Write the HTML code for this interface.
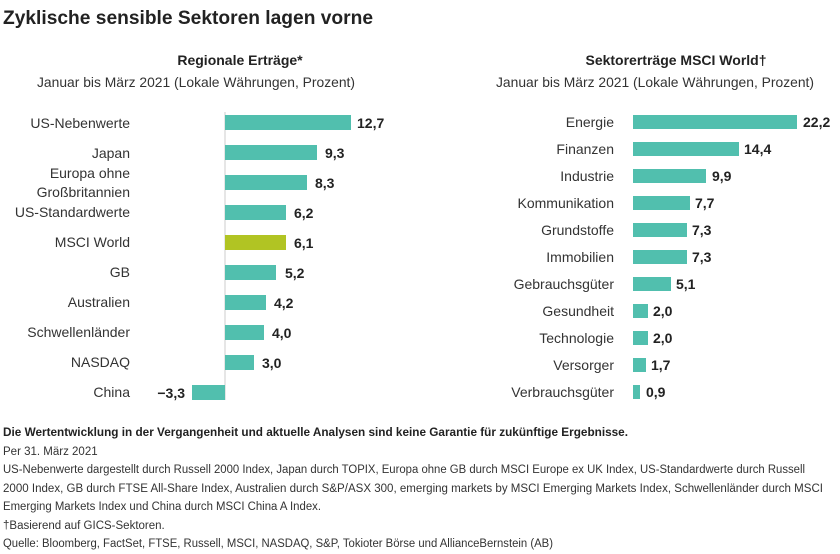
<!DOCTYPE html>
<html><head><meta charset="utf-8"><style>
body{margin:0;background:#fff;}
svg{display:block;font-family:"Liberation Sans",sans-serif;}
</style></head><body>
<svg width="840" height="554" viewBox="0 0 840 554">
<text x="3" y="24" font-size="19.5" font-weight="bold" fill="#222" textLength="370" lengthAdjust="spacingAndGlyphs">Zyklische sensible Sektoren lagen vorne</text>
<text x="240" y="65" font-size="14" font-weight="bold" fill="#222" text-anchor="middle">Regionale Erträge*</text>
<text x="196" y="87" font-size="14" fill="#333" text-anchor="middle" textLength="318" lengthAdjust="spacingAndGlyphs">Januar bis März 2021 (Lokale Währungen, Prozent)</text>
<text x="676" y="65" font-size="14" font-weight="bold" fill="#222" text-anchor="middle">Sektorerträge MSCI World†</text>
<text x="655" y="87" font-size="14" fill="#333" text-anchor="middle" textLength="318" lengthAdjust="spacingAndGlyphs">Januar bis März 2021 (Lokale Währungen, Prozent)</text>

<line x1="225" y1="112" x2="225" y2="400" stroke="#ccc" stroke-width="1"/>
<g font-size="14" fill="#333" text-anchor="end">
<text x="130" y="128">US-Nebenwerte</text>
<text x="130" y="158">Japan</text>
<text x="130" y="178">Europa ohne</text>
<text x="130" y="197">Großbritannien</text>
<text x="130" y="217">US-Standardwerte</text>
<text x="130" y="247">MSCI World</text>
<text x="130" y="277">GB</text>
<text x="130" y="307">Australien</text>
<text x="130" y="337">Schwellenländer</text>
<text x="130" y="367">NASDAQ</text>
<text x="130" y="397">China</text>
</g>
<g fill="#51bfae">
<rect x="225" y="115" width="126" height="15"/>
<rect x="225" y="145" width="92" height="15"/>
<rect x="225" y="175" width="82" height="15"/>
<rect x="225" y="205" width="61" height="15"/>
<rect x="225" y="235" width="61" height="15" fill="#b1c423"/>
<rect x="225" y="265" width="51" height="15"/>
<rect x="225" y="295" width="41" height="15"/>
<rect x="225" y="325" width="39" height="15"/>
<rect x="225" y="355" width="29" height="15"/>
<rect x="192" y="385" width="33" height="15"/>
</g>
<g font-size="14" font-weight="bold" fill="#222">
<text x="357" y="128">12,7</text>
<text x="325" y="158">9,3</text>
<text x="315" y="188">8,3</text>
<text x="294" y="218">6,2</text>
<text x="294" y="248">6,1</text>
<text x="285" y="278">5,2</text>
<text x="274" y="308">4,2</text>
<text x="272" y="338">4,0</text>
<text x="262" y="368">3,0</text>
<text x="185" y="398" text-anchor="end">−3,3</text>
</g>

<g font-size="14" fill="#333" text-anchor="end">
<text x="614" y="127">Energie</text>
<text x="614" y="154">Finanzen</text>
<text x="614" y="181">Industrie</text>
<text x="614" y="208">Kommunikation</text>
<text x="614" y="235">Grundstoffe</text>
<text x="614" y="262">Immobilien</text>
<text x="614" y="289">Gebrauchsgüter</text>
<text x="614" y="316">Gesundheit</text>
<text x="614" y="343">Technologie</text>
<text x="614" y="370">Versorger</text>
<text x="614" y="397">Verbrauchsgüter</text>
</g>
<g fill="#51bfae">
<rect x="633" y="115" width="164" height="14"/>
<rect x="633" y="142" width="106" height="14"/>
<rect x="633" y="169" width="73" height="14"/>
<rect x="633" y="196" width="57" height="14"/>
<rect x="633" y="223" width="54" height="14"/>
<rect x="633" y="250" width="54" height="14"/>
<rect x="633" y="277" width="38" height="14"/>
<rect x="633" y="304" width="15" height="14"/>
<rect x="633" y="331" width="15" height="14"/>
<rect x="633" y="358" width="13" height="14"/>
<rect x="633" y="385" width="7" height="14"/>
</g>
<g font-size="14" font-weight="bold" fill="#222">
<text x="803" y="127">22,2</text>
<text x="744" y="154">14,4</text>
<text x="712" y="181">9,9</text>
<text x="695" y="208">7,7</text>
<text x="692" y="235">7,3</text>
<text x="692" y="262">7,3</text>
<text x="676" y="289">5,1</text>
<text x="653" y="316">2,0</text>
<text x="653" y="343">2,0</text>
<text x="651" y="370">1,7</text>
<text x="646" y="397">0,9</text>
</g>

<g font-size="11.5" fill="#333">
<text x="3" y="436" font-weight="bold" fill="#222" textLength="625" lengthAdjust="spacingAndGlyphs">Die Wertentwicklung in der Vergangenheit und aktuelle Analysen sind keine Garantie für zukünftige Ergebnisse.</text>
<text x="3" y="455">Per 31. März 2021</text>
<text x="3" y="473" textLength="802" lengthAdjust="spacingAndGlyphs">US-Nebenwerte dargestellt durch Russell 2000 Index, Japan durch TOPIX, Europa ohne GB durch MSCI Europe ex UK Index, US-Standardwerte durch Russell</text>
<text x="3" y="492" textLength="820" lengthAdjust="spacingAndGlyphs">2000 Index, GB durch FTSE All-Share Index, Australien durch S&amp;P/ASX 300, emerging markets by MSCI Emerging Markets Index, Schwellenländer durch MSCI</text>
<text x="3" y="510" textLength="318" lengthAdjust="spacingAndGlyphs">Emerging Markets Index und China durch MSCI China A Index.</text>
<text x="3" y="529">†Basierend auf GICS-Sektoren.</text>
<text x="3" y="547" textLength="550" lengthAdjust="spacingAndGlyphs">Quelle: Bloomberg, FactSet, FTSE, Russell, MSCI, NASDAQ, S&amp;P, Tokioter Börse und AllianceBernstein (AB)</text>
</g>
</svg>
</body></html>
